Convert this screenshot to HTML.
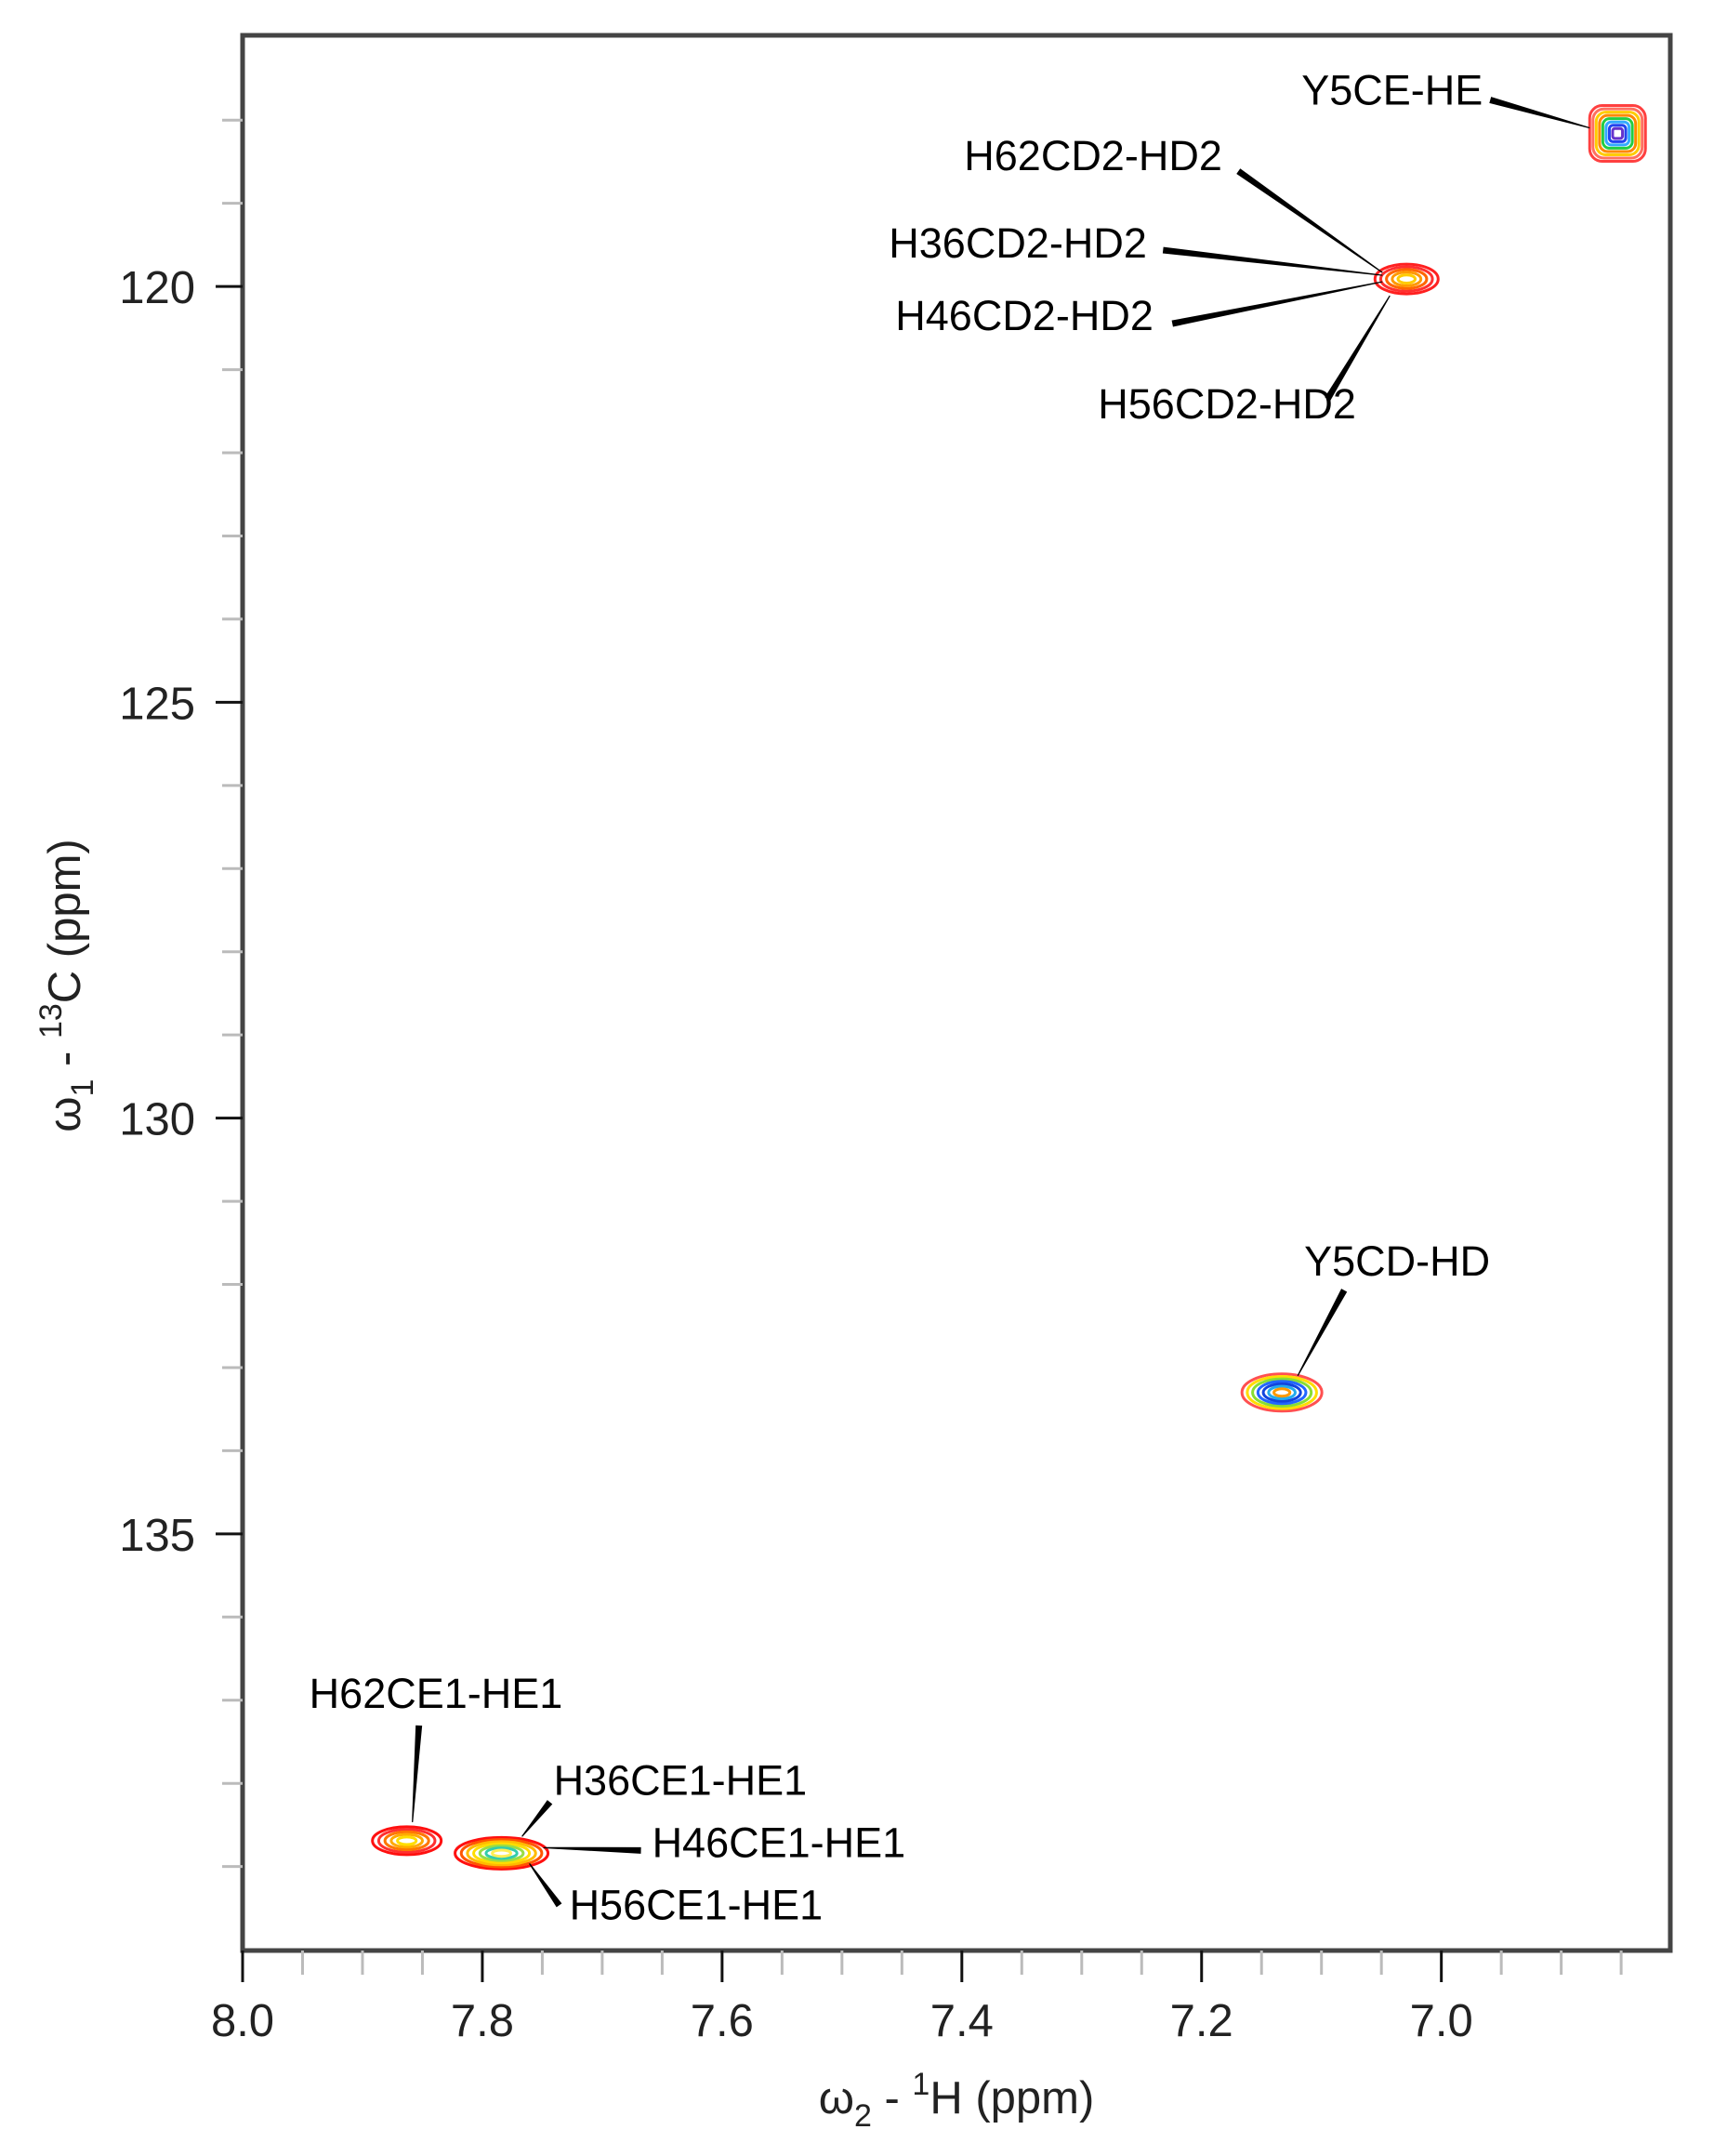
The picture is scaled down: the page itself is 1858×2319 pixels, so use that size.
<!DOCTYPE html>
<html><head><meta charset="utf-8"><style>
html,body{margin:0;padding:0;background:#fff;}
svg{display:block;font-family:"Liberation Sans",Arial,sans-serif;}
</style></head><body>
<svg id="chart" width="1858" height="2319" viewBox="0 0 1858 2319" xmlns="http://www.w3.org/2000/svg">
<g id="grid"></g>
<g id="peaks"></g>
<g id="labels"></g>
</svg>
<script>
// ---- data ----
const peakNames = ["Y5CE-HE", "HxxCD2-HD2", "Y5CD-HD", "H62CE1-HE1", "HxxCE1-HE1"];
const peakH = [6.853, 7.029, 7.133, 7.863, 7.784];
const peakC = [118.16, 119.91, 133.30, 138.69, 138.84];
const xTickLabels = ["8.0", "7.8", "7.6", "7.4", "7.2", "7.0"];
const xTickValues = [8.0, 7.8, 7.6, 7.4, 7.2, 7.0];
const yTickLabels = ["120", "125", "130", "135"];
const yTickValues = [120, 125, 130, 135];
const labelTexts = ["Y5CE-HE","H62CD2-HD2","H36CD2-HD2","H46CD2-HD2","H56CD2-HD2","Y5CD-HD","H62CE1-HE1","H36CE1-HE1","H46CE1-HE1","H56CE1-HE1"];
const labelPeak = [0,1,1,1,1,2,3,4,4,4];

// ---- layout (pixels) ----
const L = 261, R = 1797, T = 38, B = 2098;
const xMin = 6.809, xMax = 8.0;   // ppm (reversed axis)
const yMin = 116.98, yMax = 140.01;
const xs = v => L + (xMax - v) / (xMax - xMin) * (R - L);
const ys = v => T + (v - yMin) / (yMax - yMin) * (B - T);
const labelLayout = [
 [-340,-31,-137,-36,-30,-6],[-476,-117,-181,-116,-26,-7],[-557,-23,-262,-31,-26,-4],
 [-550,55,-252,48,-26,3],[-332,150,-85,129,-18,18],[24,-126,67,-110,17,-18],
 [-105,-143,13,-124,6,-20],[56,-63,52,-55,22,-18],[162,4,150,-3,45,-6],[73,71,62,56,30,11]];
const peakShape = [[30,30],[34,16],[43,20],[37,15],[50,17]];
const peakColors = [
 ["#ff4040","#ff7060","#ffcc00","#ff8800","#22cc44","#33aaff","#2244ee","#6633cc"],
 ["#ff2020","#ff3030","#ff6600","#ff9900","#ffcc00"],
 ["#ff5050","#ffdd00","#88dd33","#2266ff","#1144dd","#22aaee","#ff9900"],
 ["#ff1010","#ff3030","#ff7700","#ffaa00","#ffdd00"],
 ["#ff1010","#ff5500","#ffbb00","#ffdd00","#99dd44","#33ccaa","#ffee55"]];

const NS = "http://www.w3.org/2000/svg";
function mk(tag, attrs, parent){ const e=document.createElementNS(NS,tag); for(const k in attrs) e.setAttribute(k,attrs[k]); parent.appendChild(e); return e; }
const grid = document.getElementById('grid');
const pk = document.getElementById('peaks');
const lb = document.getElementById('labels');

// frame
const frame = mk('rect',{x:L,y:T,width:R-L,height:B-T,fill:'none',stroke:'#444','stroke-width':5},grid);



// x ticks
for(let i=0;i<=23;i++){
  const v = 8.0 - i*0.05;
  if (v < xMin) break;
  const major = i%4===0;
  const t = mk('line',{x1:xs(v),x2:xs(v),y1:B,y2:B+(major?34:26),stroke:major?'#111':'#bbb','stroke-width':3},grid);
  
  
}
xTickValues.forEach((v,i)=>{
  const t = mk('text',{x:xs(v),y:B+92,'text-anchor':'middle','font-size':49,fill:'#222'},grid);
  t.textContent = xTickLabels[i];
  
  
});
// y ticks
for(let v=118; v<140; v++){
  const major = v%5===0;
  const t = mk('line',{x1:L-(major?29:22),x2:L,y1:ys(v),y2:ys(v),stroke:major?'#111':'#bbb','stroke-width':3},grid);
  
  
}
yTickValues.forEach((v,i)=>{
  const t = mk('text',{x:210,y:ys(v)+18,'text-anchor':'end','font-size':49,fill:'#222'},grid);
  t.textContent = yTickLabels[i];
  
  
});
// axis titles
const xt = mk('text',{x:1029,y:2273,'text-anchor':'middle','font-size':49,fill:'#222'},grid);
xt.innerHTML = 'ω<tspan dy="14" font-size="34">2</tspan><tspan dy="-14"> - </tspan><tspan dy="-20" font-size="34">1</tspan><tspan dy="20">H  (ppm)</tspan>';


const yt = mk('text',{x:0,y:0,'text-anchor':'middle','font-size':49,fill:'#222',transform:'translate(86,1060) rotate(-90)'},grid);
yt.innerHTML = 'ω<tspan dy="14" font-size="34">1</tspan><tspan dy="-14"> - </tspan><tspan dy="-20" font-size="34">13</tspan><tspan dy="20">C  (ppm)</tspan>';



// peaks (contours)
peakH.forEach((h,i)=>{
  const cx = xs(h), cy = ys(peakC[i]);
  const g = mk('g',{},pk);
  
  
  const cols = peakColors[i], n = cols.length;
  const [rx,ry] = peakShape[i];
  cols.forEach((c,k)=>{
    const f = 1 - k/(n+0.5);
    if (i===0) mk('rect',{x:cx-rx*f,y:cy-ry*f,width:2*rx*f,height:2*ry*f,rx:rx*f*0.45,fill:'none',stroke:c,'stroke-width':3},g);
    else mk('ellipse',{cx:cx,cy:cy,rx:rx*f,ry:ry*f,fill:'none',stroke:c,'stroke-width':3},g);
  });
});

// labels + tapered leaders
labelTexts.forEach((txt,i)=>{
  const p = labelPeak[i];
  const cx = xs(peakH[p]), cy = ys(peakC[p]);
  const [tx,ty,sx,sy,ex,ey] = labelLayout[i];
  const x1=cx+sx,y1=cy+sy,x2=cx+ex,y2=cy+ey;
  const dx=x2-x1,dy=y2-y1,len=Math.hypot(dx,dy),nx=-dy/len,ny=dx/len;
  const w1=3.5,w2=0.6;
  const ld = mk('polygon',{points:`${x1+nx*w1},${y1+ny*w1} ${x2+nx*w2},${y2+ny*w2} ${x2-nx*w2},${y2-ny*w2} ${x1-nx*w1},${y1-ny*w1}`,fill:'#000'},lb);
  
  
  const t = mk('text',{x:cx+tx,y:cy+ty,'font-size':45,fill:'#000'},lb);
  t.textContent = txt;
  
  
});
</script>
</body></html>
